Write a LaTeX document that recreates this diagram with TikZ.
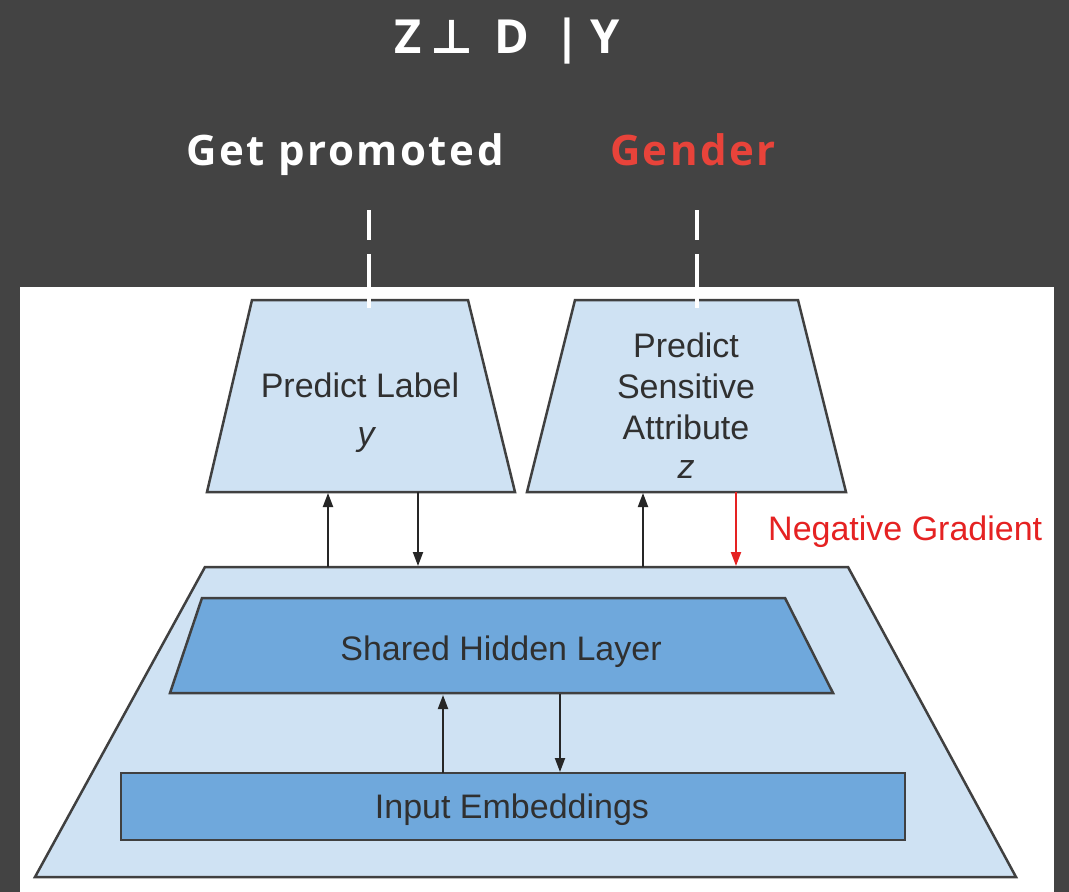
\documentclass[tikz,border=0pt]{standalone}
\usepackage{fontspec}
\setmainfont{Liberation Sans}
\newfontfamily\slidefont{Open Sans}[LetterSpace=6]
\newfontfamily\titlefont{Open Sans}
\newfontfamily\symfont{DejaVu Sans}
\usetikzlibrary{arrows.meta}
\definecolor{bgdark}{HTML}{434343}
\definecolor{lightblue}{HTML}{CFE2F3}
\definecolor{midblue}{HTML}{6FA8DC}
\definecolor{edgegray}{HTML}{404040}
\definecolor{txtgray}{HTML}{303030}
\definecolor{gred}{HTML}{E8433A}
\definecolor{arrred}{HTML}{E52222}
\begin{document}
\begin{tikzpicture}[x=1pt,y=-1pt,
  lightshape/.style={fill=lightblue, draw=edgegray, line width=2.5pt, line join=miter},
  darkshape/.style={fill=midblue, draw=edgegray, line width=2.5pt, line join=miter},
  bodytext/.style={inner sep=0pt, text=txtgray, font=\fontsize{34}{40}\selectfont, anchor=base},
  slidetext/.style={inner sep=0pt, font=\slidefont\bfseries\fontsize{42}{50}\selectfont, anchor=base},
  titletext/.style={inner sep=0pt, font=\titlefont\bfseries\fontsize{47}{56}\selectfont, anchor=base},
  arr/.style={draw=black!85, line width=2pt, -{Triangle[length=14pt,width=10pt]}},
  redarr/.style={draw=arrred, line width=2pt, -{Triangle[length=14pt,width=10pt]}},
  dashline/.style={draw=white, line width=4pt, dash pattern=on 30pt off 14pt on 60pt off 100pt}]
\fill[bgdark] (0,0) rectangle (1069,892);
\useasboundingbox (0,0) rectangle (1069,892);
\fill[white] (20,287) rectangle (1054,892);

% shapes
\draw[lightshape] (205,567) -- (848,567) -- (1016,877) -- (35,877) -- cycle;
\draw[darkshape] (202,598) -- (785,598) -- (833,693) -- (170,693) -- cycle;
\draw[darkshape] (121,773) rectangle (905,840);
\draw[lightshape] (252,300) -- (468,300) -- (515,492) -- (207,492) -- cycle;
\draw[lightshape] (575,300) -- (798,300) -- (846,492) -- (527,492) -- cycle;

% texts
\node[bodytext] (pl1) at (360,397) {Predict Label};
\node[bodytext] (pl2) at (366,445) {\itshape y};
\node[bodytext] (ps1) at (686,357) {Predict};
\node[bodytext] (ps2) at (686,398) {Sensitive};
\node[bodytext] (ps3) at (686,439) {Attribute};
\node[bodytext] (ps4) at (686,478) {\itshape z};
\node[bodytext, text=arrred, anchor=base west] (neg) at (768,540) {Negative Gradient};
\node[bodytext] (shl) at (501,660) {Shared Hidden Layer};
\node[bodytext] (inp) at (512,818) {Input Embeddings};

\node[titletext, text=white] (title) at (507,53) {Z\hspace{9pt}{\symfont\bfseries ⊥}\hspace{21pt}D\hspace{25pt}|\hspace{10pt}Y};
\node[slidetext, text=white] (gp) at (345,165) {Get promoted};
\node[slidetext, text=gred] (gen) at (693,165) {Gender};

% connector end points
\coordinate (a1s) at (328,567); \coordinate (a1e) at (328,493);
\coordinate (a2s) at (418,492); \coordinate (a2e) at (418,566);
\coordinate (a3s) at (643,567); \coordinate (a3e) at (643,493);
\coordinate (a4s) at (736,492); \coordinate (a4e) at (736,566);
\coordinate (a5s) at (443,773); \coordinate (a5e) at (443,695);
\coordinate (a6s) at (560,694); \coordinate (a6e) at (560,772);
\coordinate (d1s) at (369,210); \coordinate (d1e) at (369,308);
\coordinate (d2s) at (697,210); \coordinate (d2e) at (697,308);

\draw[arr] (a1s) -- (a1e);
\draw[arr] (a2s) -- (a2e);
\draw[arr] (a3s) -- (a3e);
\draw[redarr] (a4s) -- (a4e);
\draw[arr] (a5s) -- (a5e);
\draw[arr] (a6s) -- (a6e);
\draw[dashline] (d1s) -- (d1e);
\draw[dashline] (d2s) -- (d2e);
\end{tikzpicture}
\end{document}
